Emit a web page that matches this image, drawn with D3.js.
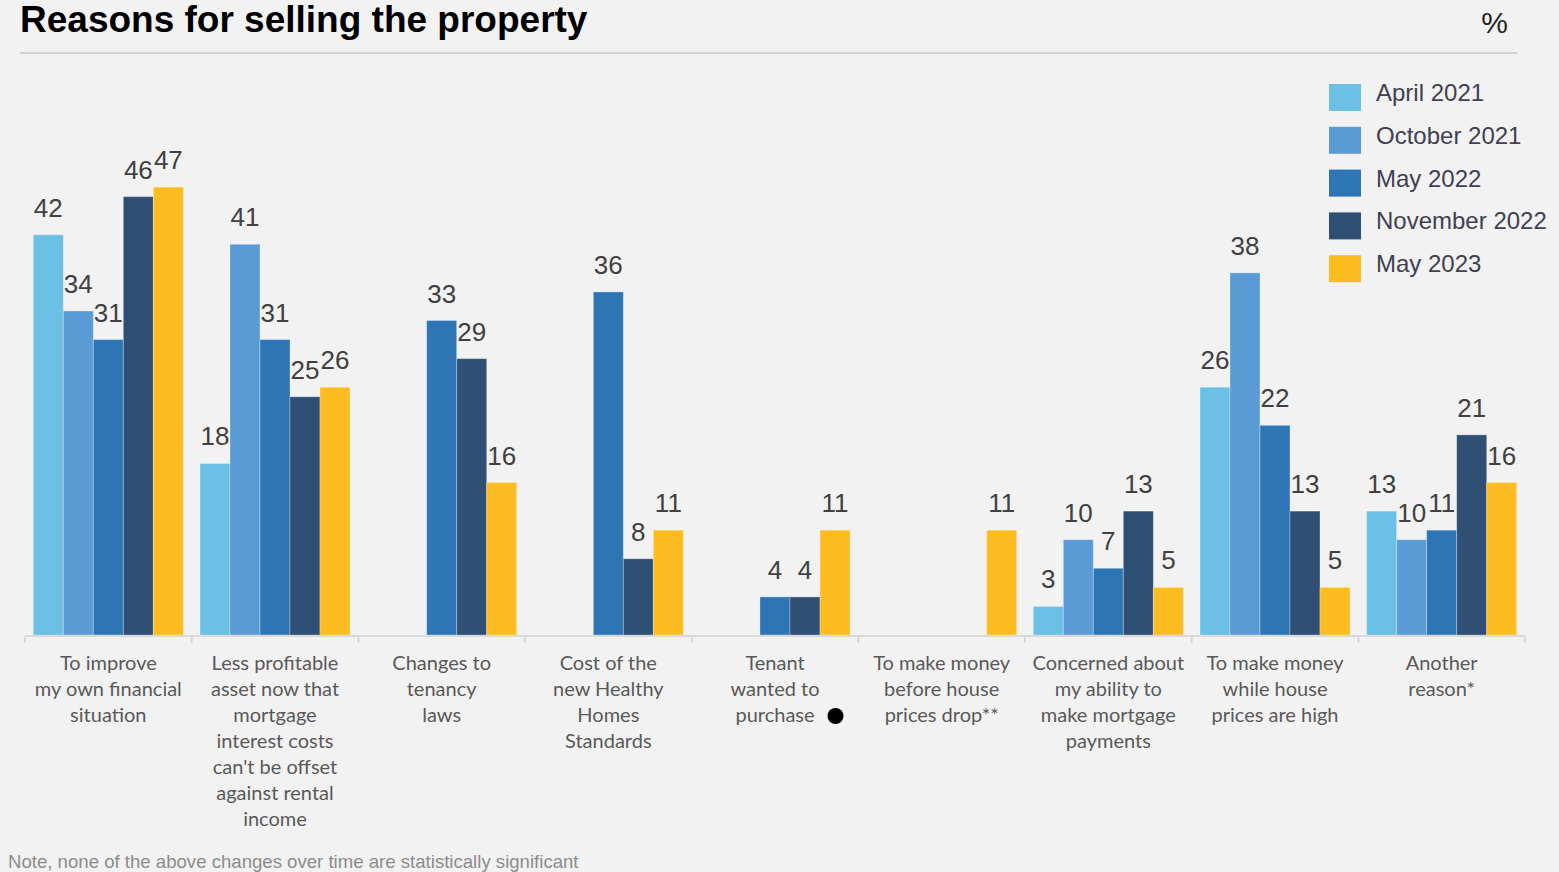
<!DOCTYPE html>
<html>
<head>
<meta charset="utf-8">
<script src="https://cdn.jsdelivr.net/npm/d3@7"></script>
<style>
  html, body { margin: 0; padding: 0; background: #f2f2f2; }
  svg { display: block; }
</style>
</head>
<body>
<svg id="chart" width="1559" height="872"></svg>
<script>
// Survey waves (legend order)
const seriesNames = ["April 2021", "October 2021", "May 2022", "November 2022", "May 2023"];
const seriesColors = ["#6cc0e5", "#5b9bd5", "#2e75b6", "#2f4f74", "#fdbc1f"];

// Reasons, each with wrapped label lines
const categories = [
  "To improve my own financial situation",
  "Less profitable asset now that mortgage interest costs can't be offset against rental income",
  "Changes to tenancy laws",
  "Cost of the new Healthy Homes Standards",
  "Tenant wanted to purchase",
  "To make money before house prices drop**",
  "Concerned about my ability to make mortgage payments",
  "To make money while house prices are high",
  "Another reason*"
];
const categoryLines = [
  ["To improve", "my own financial", "situation"],
  ["Less profitable", "asset now that", "mortgage", "interest costs", "can't be offset", "against rental", "income"],
  ["Changes to", "tenancy", "laws"],
  ["Cost of the", "new Healthy", "Homes", "Standards"],
  ["Tenant", "wanted to", "purchase"],
  ["To make money", "before house", "prices drop**"],
  ["Concerned about", "my ability to", "make mortgage", "payments"],
  ["To make money", "while house", "prices are high"],
  ["Another", "reason*"]
];

// Percentages per wave (null = not asked in that wave)
const april2021    = [42, 18, null, null, null, null, 3, 26, 13];
const october2021  = [34, 41, null, null, null, null, 10, 38, 10];
const may2022      = [31, 31, 33, 36, 4, null, 7, 22, 11];
const november2022 = [46, 25, 29, 8, 4, null, 13, 13, 21];
const may2023      = [47, 26, 16, 11, 11, 11, 5, 5, 16];
const seriesValues = [april2021, october2021, may2022, november2022, may2023];

const svg = d3.select("#chart");

// Title, unit and rule
svg.append("text")
  .attr("x", 20).attr("y", 32)
  .attr("font-family", "Liberation Sans, Arial, sans-serif")
  .attr("font-weight", "bold").attr("font-size", 37)
  .attr("fill", "#000")
  .text("Reasons for selling the property");
svg.append("text")
  .attr("x", 1508).attr("y", 33).attr("text-anchor", "end")
  .attr("font-family", "Liberation Sans, Arial, sans-serif")
  .attr("font-size", 30).attr("fill", "#262626")
  .text("%");
svg.append("line")
  .attr("x1", 20).attr("x2", 1517).attr("y1", 53).attr("y2", 53)
  .attr("stroke", "#c3c3c3").attr("stroke-width", 1.5);

// Scales
const x0 = d3.scaleBand().domain(categories).range([25, 1525]).padding(0);
const x1 = d3.scaleBand().domain(seriesNames).range([8.3, x0.bandwidth() - 8.3]).padding(0);
const y = d3.scaleLinear().domain([0, 50]).range([635, 158.5]);

// Bars and value labels
const groups = svg.append("g").selectAll("g")
  .data(categories)
  .join("g")
  .attr("transform", d => `translate(${x0(d)},0)`);

groups.each(function(cat, ci) {
  const g = d3.select(this);
  const rows = seriesNames.map((s, si) => ({ s, si, v: seriesValues[si][ci] }))
    .filter(d => d.v !== null);
  g.selectAll("rect").data(rows).join("rect")
    .attr("x", d => x1(d.s))
    .attr("y", d => y(d.v))
    .attr("width", x1.bandwidth())
    .attr("height", d => y(0) - y(d.v))
    .attr("fill", d => seriesColors[d.si])
    .attr("stroke", "rgba(255,255,255,0.3)")
    .attr("stroke-width", 1);
  g.selectAll("text.val").data(rows).join("text")
    .attr("class", "val")
    .attr("x", d => x1(d.s) + x1.bandwidth() / 2)
    .attr("y", d => y(d.v) - 18)
    .attr("text-anchor", "middle")
    .attr("font-family", "Liberation Sans, Arial, sans-serif")
    .attr("font-size", 26)
    .attr("fill", "#404040")
    .text(d => d.v);
});

// Category axis: baseline and separators
const axis = svg.append("g");
axis.append("line")
  .attr("x1", 25).attr("x2", 1525).attr("y1", 636).attr("y2", 636)
  .attr("stroke", "#d9d9d9").attr("stroke-width", 2);
const bounds = categories.map(c => x0(c)).concat([x0.range()[1]]);
axis.selectAll("line.tick").data(bounds).join("line")
  .attr("class", "tick")
  .attr("x1", d => d).attr("x2", d => d)
  .attr("y1", 636).attr("y2", 643)
  .attr("stroke", "#d9d9d9").attr("stroke-width", 2);

// Category labels
const labels = svg.append("g");
categories.forEach((c, ci) => {
  const t = labels.append("text")
    .attr("x", x0(c) + x0.bandwidth() / 2)
    .attr("y", 670)
    .attr("text-anchor", "middle")
    .attr("font-family", "Lato, Carlito, Calibri, sans-serif")
    .attr("font-size", 20)
    .attr("fill", "#595959");
  categoryLines[ci].forEach((line, li) => {
    t.append("tspan")
      .attr("x", x0(c) + x0.bandwidth() / 2)
      .attr("y", 670 + li * 26)
      .text(line);
  });
});

// Marker after "Tenant wanted to purchase"
const tenantCat = categories[4];
svg.append("circle")
  .attr("cx", x0(tenantCat) + x0.bandwidth() / 2 + 60.5)
  .attr("cy", 670 + 2 * 26 - 6)
  .attr("r", 8)
  .attr("fill", "#000");

// Legend
const legend = svg.append("g").attr("transform", "translate(1329,84)");
seriesNames.forEach((s, i) => {
  const row = legend.append("g").attr("transform", `translate(0,${i * 42.8})`);
  row.append("rect").attr("width", 32).attr("height", 27).attr("fill", seriesColors[i]);
  row.append("text")
    .attr("x", 47).attr("y", 17)
    .attr("font-family", "Liberation Sans, Arial, sans-serif")
    .attr("font-size", 24)
    .attr("fill", "#404052")
    .text(s);
});

// Footnote
svg.append("text")
  .attr("x", 8).attr("y", 868)
  .attr("font-family", "Liberation Sans, Arial, sans-serif")
  .attr("font-size", 18.6)
  .attr("fill", "#8c8c8c")
  .text("Note, none of the above changes over time are statistically significant");
</script>
</body>
</html>
